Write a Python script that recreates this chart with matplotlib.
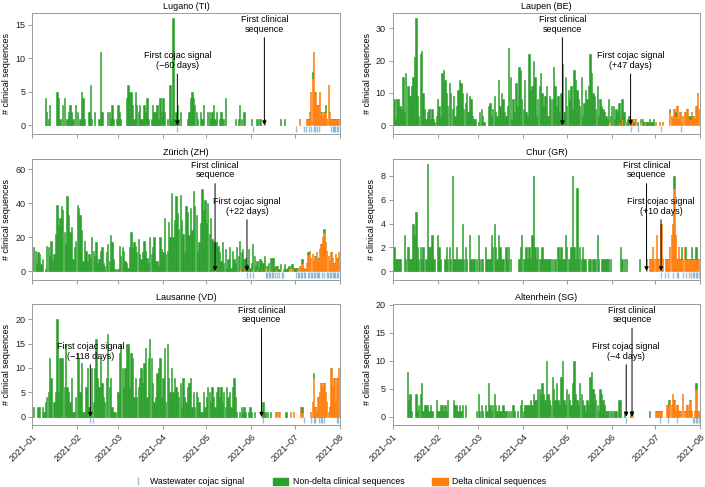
import numpy as np
import pandas as pd
import matplotlib
matplotlib.use('Agg')
import matplotlib.pyplot as plt
import matplotlib.dates as mdates
from matplotlib.lines import Line2D
from matplotlib.patches import Patch

plt.rcParams['font.family'] = ['Liberation Sans', 'DejaVu Sans']

days = pd.date_range('2021-01-01', '2021-07-31', freq='D')

# daily counts, non-delta from Jan 1, delta from the given start date
lugano_nd = [0,0,0,0,0,0,0,0,0,4, 2,1,3,0,0,0,0,5,4,1, 0,3,4,0,1,2,3,2,1,0,
             3,2,0,1,5,4,1,0,0,2, 6,1,0,2,0,0,1,11,2,0, 0,0,2,2,1,3,1,0,1,3,
             2,1,0,0,0,4,6,5,5,3, 1,5,3,2,3,1,1,3,2,4, 1,0,1,3,2,2,3,1,4,2,
             4,2,0,1,0,6,1,16,1,2, 3,1,2,0,0,0,0,1,2,4, 5,4,3,2,1,0,2,1,3,0,
             0,2,2,1,2,3,1,2,0,1, 2,1,1,4,0,0,0,0,0,0, 1,0,1,3,1,0,2,0,0,0,
             0,1,0,0,0,1,0,1,0,0, 0,0,0,0,0,0,0,0,0,0, 0,1,0,0,1,0,0,0,0,0,
             0,0,0,0,0,0,0,0,0,0, 0,0,0,1,0,0,0,0,0,0, 0,0,1]
lugano_delta_from = '2021-06-10'
lugano_delta = [1,0,0,0,0,0,0,0,0,0, 0,0,0,0,0,0,0,0,0,0, 0,0,0,0,1,0,0,0,0,1,
                1,2,5,7,11,5,3,3,5,2, 1,2,2,1,6,2,1,1,1,1,1,1]
lugano_ww = [100, 152, 182, 187, 189, 191, 192, 194, 195, 196, 198, 206, 207, 208, 209, 210, 211]

laupen_nd = [9,8,2,8,8,6,5,15,4,16, 12,12,9,12,15,21,33,9,3,22, 23,10,5,2,4,5,2,5,2,1,
             3,8,6,3,16,17,14,10,6,13, 10,5,9,3,6,11,14,13,10,5, 7,10,4,9,8,3,2,2,0,1,
             4,5,3,1,0,0,6,7,3,5, 9,4,3,14,6,10,8,4,3,6, 24,15,2,8,4,13,6,18,17,8,
             5,14,4,3,22,11,12,20,15,3, 8,12,16,10,6,9,12,3,9,8, 8,18,12,6,9,4,10,18,4,15,
             6,11,8,12,5,17,14,11,8,6, 15,3,7,11,8,12,22,16,10,9, 5,12,3,8,6,5,4,3,2,7,
             2,6,6,1,5,4,6,2,6,4, 3,1,2,1,2,0,1,0,0,1, 0,1,2,1,0,1,1,1,1,1,
             2,0,0,0,0,0,0,0,0,0, 0,1,0,0,0,1,0,0,0,0, 0,0,0,0,0,1]
laupen_delta_from = '2021-04-28'
laupen_delta = [1,0,0,0,0,0,0,0,0,0, 0,0,0,0,0,0,0,0,0,0, 0,0,0,0,0,0,0,0,0,0,
                0,0,1,1,0,0,1,0,0,1, 0,2,0,1,0,0,2,0,2,0, 2,0,0,0,1,0,0,1,0,0,
                1,0,0,0,1,0,0,1,0,1, 0,0,0,0,4,3,2,5,3,6, 2,4,1,3,4,4,5,3,2,4,
                3,2,6,10,5]
laupen_ww = [164, 169, 185, 199]

zurich_nd = [0,14,12,5,11,10,4,7,0,1, 15,14,9,18,6,10,22,39,27,31, 38,36,23,16,44,33,23,26,7,14,
             18,39,37,33,24,6,18,12,6,10, 8,20,12,9,17,5,7,12,14,5, 3,11,16,6,21,17,7,1,0,1,
             15,9,14,12,6,5,2,14,23,14, 17,15,11,19,10,7,11,18,12,8, 5,20,10,14,20,6,6,3,20,13,
             11,31,10,12,29,20,46,20,30,44, 34,25,45,30,22,11,38,35,21,37, 24,47,38,33,12,17,28,48,36,42,
             28,40,22,31,19,17,16,17,15,11, 6,17,5,13,2,7,14,2,12,7, 5,14,9,17,11,13,6,8,4,12,
             2,5,14,9,3,5,2,7,4,5, 6,1,3,3,8,4,8,2,2,3, 1,2,0,1,3,1,2,1,0,2,
             1,2,0,1,0,0,2,0,0,0, 1,0,0,0,0,0,0,0,0,0, 0,2]
zurich_delta_from = '2021-05-07'
zurich_delta = [1,0,0,0,0,0,0,0,0,0, 0,0,0,0,0,0,0,1,0,0, 1,0,0,1,0,0,2,0,0,1,
                0,0,2,0,3,2,0,2,0,4, 0,0,1,0,0,2,0,0,1,0, 0,2,0,2,1,0,2,1,3,2,
                5,2,1,5,10,12,8,10,6,9, 11,8,13,16,20,23,17,12,9,6, 11,8,5,10,8,11]
zurich_ww = [148, 150, 152, 161, 162, 163, 164, 165, 166, 167, 169, 170, 172, 173,
             182, 183, 184, 185, 186, 187, 188, 190, 191, 192, 193, 194, 195, 196, 197,
             198, 200, 201, 203, 204, 205, 206, 207, 208, 209, 210, 211]

chur_nd = [2,2,1,1,1,1,0,0,3,1, 2,2,1,1,4,3,5,2,1,2, 1,2,0,1,9,2,2,3,1,1,
           0,3,2,1,0,0,1,2,1,2, 1,8,1,1,2,1,1,1,4,1, 2,1,0,3,1,1,1,0,1,3,
           1,1,1,0,2,1,1,1,3,2, 4,2,1,3,2,1,1,0,2,1, 2,1,0,0,0,0,0,1,2,3,
           1,1,2,1,2,1,3,8,2,1, 2,1,1,2,1,1,1,1,1,1, 1,0,1,0,2,1,2,1,1,3,
           2,1,1,2,8,2,1,7,1,2, 1,2,1,1,0,1,1,0,1,1, 1,3,1,0,1,1,1,1,1,1,
           1,0,0,0,0,0,0,2,1,0, 1,1,0,0,0,0,0,0,0,0, 1,0,0,0,0,0,0,0,0,0,
           0,0,0,0,0,0,0,0,0,0, 0,0,0,0,1,0,0,0,0,1, 0,0,1,0,0,0,1,0,0,1]
chur_delta_from = '2021-06-25'
chur_delta = [1,0,1,1,2,1,1,3,1,0, 4,1,0,1,1,1,2,3,4,7, 3,1,2,1,1,1,2,1,1,1,
              1,1,1,1,1,1,1]
chur_ww = [185, 188, 190, 193, 196, 197, 200, 202, 204, 206, 207, 208, 209, 210, 211]

lausanne_nd = [0,2,0,0,2,2,0,2,1,3, 4,5,12,8,0,3,5,20,5,12, 12,12,6,15,6,5,3,8,1,1,
               4,13,12,5,11,1,1,6,10,2, 1,10,3,10,16,8,6,12,7,4, 3,8,17,6,8,2,1,1,0,5,
               13,15,10,6,10,15,15,6,13,12, 4,8,4,6,8,10,7,11,14,4, 12,16,12,7,3,4,9,10,12,4,
               8,14,3,15,8,5,10,5,8,6, 5,4,7,2,8,4,3,6,7,8, 2,5,2,5,4,3,1,1,5,2,
               4,6,5,3,6,4,2,5,6,4, 6,3,5,2,6,4,5,2,6,8, 4,1,0,1,2,1,2,1,0,1,
               2,1,0,1,0,0,0,0,0,3, 1,1,1,0,1,0,0,0,0,0, 0,0,0,0,0,1,0,0,0,0,
               0,0,0,0,0,0,1,0,0,0, 0,0,0,0,1]
lausanne_delta_from = '2021-06-08'
lausanne_delta = [1,0,0,0,0,0,0,0,0,0, 1,0,1,0,0,0,0,0,0,0, 1,0,1,0,0,0,0,2,1,0,
                  0,0,0,0,1,3,8,2,1,4, 5,7,6,7,5,3,1,2,10,6, 8,3,8,10]
lausanne_ww = [40, 42, 159, 187, 192, 194, 195, 198, 199, 200, 201, 210, 211]

altenrhein_nd = [0,0,0,0,0,0,0,0,0,0, 8,3,4,1,0,0,4,1,2,4, 6,1,2,2,2,1,2,1,0,0,
                 3,1,1,2,2,1,2,1,3,0, 0,0,3,2,2,1,2,1,2,0, 2,0,0,0,0,0,0,0,1,4,
                 1,2,1,0,2,1,6,2,1,2, 4,2,1,2,1,1,2,1,1,0, 1,1,0,2,1,0,1,0,2,3,
                 1,2,2,2,2,3,2,4,3,3, 5,5,4,6,4,3,10,4,3,2, 7,5,3,6,3,2,7,10,3,2,
                 5,4,3,2,6,10,4,3,2,6, 4,3,2,1,3,2,7,8,5,4, 3,2,1,5,4,3,2,1,1,1,
                 1,1,1,1,1,0,3,3,0,0, 1,0,0,0,1,0,0,0,0,0, 0,0,0,0,0,0,0,1,0,0,
                 0,0,0,0,0,0,0,0,0,0, 1,0,0,0,0,0,0,0,0,0, 0,0,0,0,0,0,0,0,0,1]
altenrhein_delta_from = '2021-06-15'
altenrhein_delta = [1,0,0,0,0,0,0,0,0,0, 0,0,0,0,0,0,1,1,1,1, 1,0,0,0,2,2,3,2,4,3,
                    1,2,1,1,0,4,1,1,2,1, 3,1,0,1,5,1,1]
altenrhein_ww = [161, 184, 190, 196, 207, 208, 209, 210, 211]

# first cojac signal / first clinical delta sequence
titles = ['Lugano (TI)', 'Laupen (BE)', 'Zürich (ZH)', 'Chur (GR)', 'Lausanne (VD)', 'Altenrhein (SG)']
cojac_dates = ['2021-04-11', '2021-06-14', '2021-05-29', '2021-07-05', '2021-02-10', '2021-06-11']
clinical_dates = ['2021-06-10', '2021-04-28', '2021-05-07', '2021-06-25', '2021-06-08', '2021-06-15']
lead_labels = ['\u221260 days', '+47 days', '+22 days', '+10 days', '\u2212118 days', '\u22124 days']

GREEN = '#2ca02c'
ORANGE = '#ff7f0e'
BLUE = '#1f77b4'
GREY = '#9a9a9a'


def full(vals, start='2021-01-01'):
    out = np.zeros(len(days))
    i = days.get_loc(pd.Timestamp(start))
    out[i:i + len(vals)] = vals
    return out


panels = [
    (lugano_nd, lugano_delta, lugano_delta_from, lugano_ww, (-1.35, 16.7), 5),
    (laupen_nd, laupen_delta, laupen_delta_from, laupen_ww, (-2.8, 34.6), 10),
    (zurich_nd, zurich_delta, zurich_delta_from, zurich_ww, (-4.9, 65.7), 20),
    (chur_nd, chur_delta, chur_delta_from, chur_ww, (-0.7, 9.4), 2),
    (lausanne_nd, lausanne_delta, lausanne_delta_from, lausanne_ww, (-1.7, 23.1), 5),
    (altenrhein_nd, altenrhein_delta, altenrhein_delta_from, altenrhein_ww, (-1.5, 20.1), 5),
]

W, H = 705, 487
fig = plt.figure(figsize=(W / 100, H / 100), dpi=100)

lefts = [32.3, 392.7]
rows = [(13.3, 134.3), (159.3, 279.5), (304.0, 425.0)]
aw = 307.5

for k, (nd, dl, dl_from, ww, ylim, ystep) in enumerate(panels):
    r, c = divmod(k, 2)
    top, bot = rows[r]
    ax = fig.add_axes([lefts[c] / W, 1 - bot / H, aw / W, (bot - top) / H])

    nd = full(nd)
    dl = full(dl, dl_from)
    has = (nd + dl) > 0
    x = days[has]
    ax.bar(x, dl[has], width=0.92, color=ORANGE, edgecolor=ORANGE, lw=0.4)
    ax.bar(x, nd[has], bottom=dl[has], width=0.92, color=GREEN, edgecolor=GREEN, lw=0.4)

    ww_dates = days[ww]
    ax.vlines(ww_dates, ylim[0] * 0.07, ylim[0] * 0.8, color=BLUE, alpha=0.45, lw=1.0)

    xc = mdates.date2num(pd.Timestamp(clinical_dates[k]))
    xw = mdates.date2num(pd.Timestamp(cojac_dates[k]))
    arrow = dict(arrowstyle='-|>', color='k', lw=0.7, mutation_scale=6, shrinkA=1, shrinkB=0)
    ax.annotate('First clinical\nsequence', xy=(xc, 0), xytext=(xc, 0.91),
                textcoords=('data', 'axes fraction'), ha='center', va='center',
                fontsize=6.5, linespacing=1.1, arrowprops=arrow)
    ax.annotate('First cojac signal\n(%s)' % lead_labels[k], xy=(xw, 0), xytext=(xw, 0.61),
                textcoords=('data', 'axes fraction'), ha='center', va='center',
                fontsize=6.5, linespacing=1.1, arrowprops=arrow)

    ax.set_xlim(pd.Timestamp('2021-01-01'), pd.Timestamp('2021-08-01'))
    ax.set_ylim(*ylim)
    ax.yaxis.set_major_locator(plt.MultipleLocator(ystep))
    ax.xaxis.set_major_locator(mdates.MonthLocator())
    ax.xaxis.set_major_formatter(mdates.DateFormatter('%Y\u2013%m'))
    ax.set_title(titles[k], fontsize=6.5, pad=3)
    ax.set_ylabel('# clinical sequences', fontsize=6.5, labelpad=3)
    for s in ax.spines.values():
        s.set_color(GREY)
        s.set_linewidth(0.7)
    ax.tick_params(colors=GREY, labelcolor='#222222', labelsize=6.5, length=3, width=0.7, pad=2)
    if r < 2:
        ax.tick_params(axis='x', labelbottom=False)
    else:
        plt.setp(ax.get_xticklabels(), rotation=45, ha='right', rotation_mode='anchor')

handles = [
    Line2D([], [], marker='|', ls='', color=BLUE, alpha=0.45, markersize=6, markeredgewidth=1),
    Patch(facecolor=GREEN, edgecolor=GREEN),
    Patch(facecolor=ORANGE, edgecolor=ORANGE),
]
labels = ['Wastewater cojac signal', 'Non-delta clinical sequences', 'Delta clinical sequences']
fig.legend(handles, labels, loc='center', bbox_to_anchor=(0.48, 1 - 482 / H), ncol=3,
           frameon=False, fontsize=6.3, handlelength=1.8, handleheight=0.7,
           handletextpad=0.5, columnspacing=3.2)

fig.savefig('out.png', dpi=100)
